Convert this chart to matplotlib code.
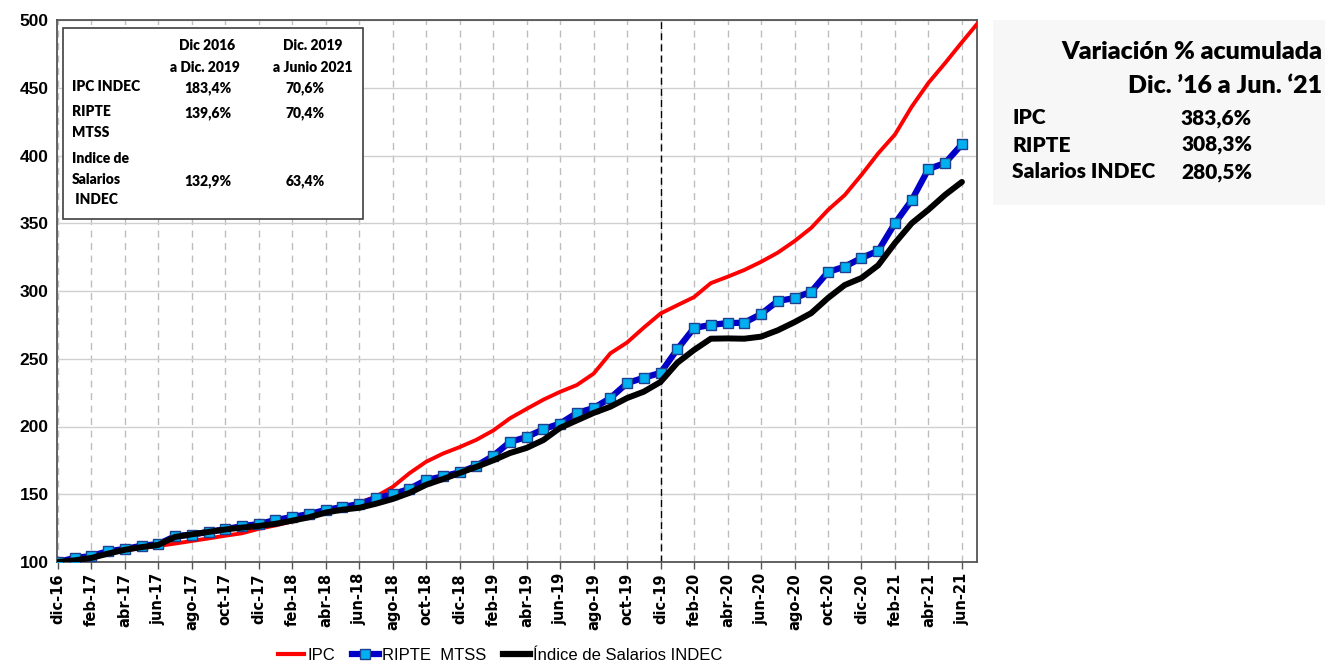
import matplotlib
matplotlib.use("Agg")
import matplotlib.pyplot as plt
from matplotlib.lines import Line2D
from matplotlib.patches import Rectangle

# Monthly index, base dic-16 = 100
meses = ['dic', 'ene', 'feb', 'mar', 'abr', 'may', 'jun', 'jul', 'ago', 'sep', 'oct', 'nov']
labels = []
for k in range(55):
    m = meses[k % 12]
    yy = 16 + (k + 11) // 12
    labels.append(f"{m}-{yy}")

ipc = [100.0, 101.6, 103.8, 106.3, 108.5, 110.3, 111.8, 113.6, 115.5, 117.4, 119.4, 121.2,
       124.5, 127.0, 130.0, 133.2, 136.8, 139.7, 143.8, 148.3, 155.4, 165.5, 174.0, 180.0,
       184.8, 190.2, 197.0, 206.0, 213.0, 219.8, 225.6, 230.6, 239.0, 254.0, 262.0, 273.0,
       283.4, 289.5, 295.5, 305.8, 310.5, 315.5, 321.5, 328.3, 336.8, 346.6, 359.8, 370.8,
       385.7, 401.6, 415.5, 436.0, 453.6, 468.3, 483.6, 498.5]

ripte = [100.0, 103.0, 104.4, 108.0, 109.6, 112.0, 113.2, 119.0, 120.2, 122.2, 124.2, 126.5,
         128.0, 131.0, 133.2, 135.4, 138.4, 140.6, 142.8, 147.0, 150.0, 154.0, 160.5, 163.2,
         166.2, 171.0, 178.3, 188.6, 192.2, 198.0, 202.2, 210.0, 213.6, 221.0, 232.0, 236.0,
         239.6, 257.0, 272.7, 275.0, 276.3, 276.6, 283.0, 292.6, 294.8, 299.5, 314.0, 318.0,
         324.4, 329.7, 350.0, 367.0, 390.0, 394.5, 408.3]

salarios = [100.0, 101.2, 103.0, 106.2, 109.0, 111.0, 112.6, 118.5, 120.4, 122.2, 124.0, 125.4,
            126.6, 128.2, 130.5, 133.0, 136.5, 138.6, 140.0, 143.0, 146.5, 151.0, 157.0, 161.2,
            165.7, 170.2, 175.0, 180.4, 184.2, 190.0, 199.0, 204.5, 210.0, 214.6, 221.0, 225.7,
            232.9, 247.0, 256.5, 264.8, 265.0, 264.8, 266.3, 271.0, 277.0, 283.7, 294.8, 304.4,
            309.6, 319.0, 335.4, 350.0, 360.0, 371.0, 380.5]

# Inset table: accumulated variation by sub-period
tabla_series = ['IPC INDEC', 'RIPTE\nMTSS', 'Indice de\nSalarios\n INDEC']
tabla_2016_2019 = ['183,4%', '139,6%', '132,9%']
tabla_2019_2021 = ['70,6%', '70,4%', '63,4%']

# Side panel: whole period
panel_series = ['IPC', 'RIPTE', 'Salarios INDEC']
panel_valores = ['383,6%', '308,3%', '280,5%']

W, H = 1325, 664
fig = plt.figure(figsize=(W / 100, H / 100), dpi=100)
ax = fig.add_axes([57 / W, 1 - 562 / H, 920 / W, 542 / H])


def px(x, y):
    return x / W, 1 - y / H


ax.plot(range(len(ipc)), ipc, color='#ff0000', lw=2.8, zorder=3, solid_capstyle='round')
ax.plot(range(len(ripte)), ripte, color='#0000c8', lw=4.5, zorder=4,
        marker='s', ms=7.5, mfc='#00b0f0', mec='#1f3f8f', mew=1.0)
ax.plot(range(len(salarios)), salarios, color='black', lw=4.3, zorder=5, solid_capstyle='round')

ax.axvline(36, color='black', lw=1, ls=(0, (5, 3)), zorder=2)

ax.set_xlim(-0.05, 54.9)
ax.set_ylim(100, 500)
ax.set_yticks(range(100, 501, 50))
ax.set_xticks(range(0, 55, 2))
ax.set_xticklabels(labels[::2], rotation=90, fontsize=10.5, fontweight='bold',
                   family=['DejaVu Sans'])
for t in ax.get_yticklabels():
    t.set_fontsize(12.5)
    t.set_fontweight('bold')
    t.set_family(['Liberation Sans Narrow', 'Liberation Sans'])
ax.tick_params(axis='x', length=5, width=1, color='#555555', pad=3)
ax.tick_params(axis='y', length=0, pad=6)

ax.grid(axis='y', color='#d0d0d0', lw=1, ls='-')
ax.grid(axis='x', color='#bdbdbd', lw=1, ls=(0, (5, 4)))
ax.set_axisbelow(True)
for s in ax.spines.values():
    s.set_color('#555555')
    s.set_linewidth(1.3)

# Inset table
fig.patches.append(Rectangle(px(63, 219), 300 / W, 191 / H, transform=fig.transFigure,
                             facecolor='white', edgecolor='#404040', lw=1.2, zorder=6))
tfont = dict(family=['Lato', 'DejaVu Sans'], fontsize=10, fontweight='heavy', zorder=7)
fig.text(*px(207, 45), 'Dic 2016', ha='center', va='center', **tfont)
fig.text(*px(205, 67), 'a Dic. 2019', ha='center', va='center', **tfont)
fig.text(*px(313, 45), 'Dic. 2019', ha='center', va='center', **tfont)
fig.text(*px(313, 67), 'a Junio 2021', ha='center', va='center', **tfont)
row_y = [88, 113, 181]
name_y = [88, 113, 160]
for nombre, a, b, yr, yn in zip(tabla_series, tabla_2016_2019, tabla_2019_2021, row_y, name_y):
    fig.text(*px(72, yn - 8), nombre, ha='left', va='top', linespacing=1.7, **tfont)
    fig.text(*px(208, yr), a, ha='center', va='center', **tfont)
    fig.text(*px(305, yr), b, ha='center', va='center', **tfont)

# Side panel
fig.patches.append(Rectangle(px(993, 205), 332 / W, 185 / H, transform=fig.transFigure,
                             facecolor='#f7f7f7', edgecolor='none', zorder=0))
pfont = dict(family=['Lato', 'DejaVu Sans'], fontweight='heavy')
fig.text(*px(1322, 52), 'Variación % acumulada', ha='right', va='center', fontsize=18, **pfont)
fig.text(*px(1322, 86), 'Dic. ’16 a Jun. ‘21', ha='right', va='center', fontsize=18, **pfont)
for i, (nombre, val) in enumerate(zip(panel_series, panel_valores)):
    y = 118 + i * 27
    fig.text(*px(1012, y), nombre, ha='left', va='center', fontsize=15, **pfont)
    fig.text(*px(1252, y), val, ha='right', va='center', fontsize=15, **pfont)

# Legend below the axis
handles = [
    Line2D([], [], color='#ff0000', lw=3),
    Line2D([], [], color='#0000c8', lw=4.5, marker='s', ms=7, mfc='#00b0f0', mec='#1f3f8f'),
    Line2D([], [], color='black', lw=4.5),
]
fig.legend(handles, ['IPC', 'RIPTE  MTSS', 'Índice de Salarios INDEC'],
           loc='center', bbox_to_anchor=px(500, 655), ncol=3, frameon=False,
           handlelength=1.6, handletextpad=0.2, columnspacing=1.0,
           prop=dict(family=['Liberation Sans Narrow', 'Liberation Sans'], size=12))

fig.savefig('out.png', dpi=100)
